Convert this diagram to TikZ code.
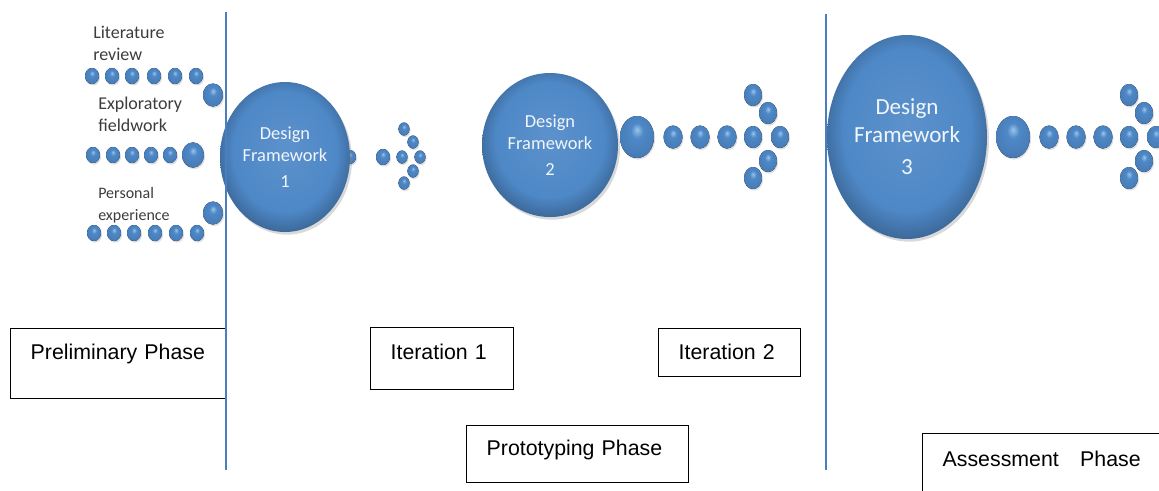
\documentclass[tikz,border=0pt]{standalone}
\usepackage{fontspec}
\setmainfont{Liberation Sans}
\newfontfamily\calibri{Carlito}
\usetikzlibrary{shapes.geometric,shadows}

\definecolor{beadmid}{RGB}{78,136,199}
\definecolor{beadhi}{RGB}{155,196,234}
\definecolor{beadlo}{RGB}{52,98,160}
\definecolor{divider}{RGB}{74,126,190}
\definecolor{labelgray}{RGB}{60,60,60}

\pgfdeclareradialshading{beadball}{\pgfpoint{0bp}{9bp}}{color(0bp)=(beadhi); color(9bp)=(beadmid); color(26bp)=(beadmid!92!black); color(34bp)=(beadlo); color(50bp)=(beadlo)}
\pgfdeclareradialshading{framefill}{\pgfpoint{0bp}{3bp}}{color(0bp)=(beadmid!92!white); color(20bp)=(beadmid); color(27bp)=(beadmid!75!black); color(50bp)=(beadmid!75!black)}

\tikzset{
	bead/.style={shading=beadball, drop shadow={shadow xshift=0.8pt, shadow yshift=-1.2pt, opacity=0.25}},
	framenode/.style={ellipse, shading=framefill, text=white!92!beadmid, align=center, inner sep=0pt, drop shadow={shadow xshift=1.5pt, shadow yshift=-2pt, opacity=0.3}},
	phasebox/.style={draw=black, line width=1pt, anchor=north west, align=left, inner xsep=15pt, inner ysep=6pt, font=\fontsize{16}{19}\selectfont},
	sidelabel/.style={anchor=base west, align=left, inner sep=0pt, text=labelgray},
	divider line/.style={draw=divider, line width=1.4pt}
}

\begin{document}
\begin{tikzpicture}[x=0.75pt, y=-0.75pt]
				\useasboundingbox (0, 0) rectangle (1159, 490);
				% Beads: source rows, then the three arrows
				\foreach \x/\y/\r in {92/76/7, 112/76/7, 132/76/7, 154/76/7, 175/76/7, 196/76/7, 213/95/10,
					93/155/7, 113/155/7, 132/155/7, 151/155/7, 170/155/7, 193/155/11,
					94/233/7, 114/233/7, 134/233/7, 155/233/7, 176/233/7, 197/233/7, 213/213/10,
					350/157/6, 383/157/7}
					\fill[bead] (\x, \y) ellipse [x radius=\r, y radius=1.15*\r];
				\foreach \x/\y in {404/129, 413/142, 402/157, 420/157, 413/171, 404/183}
					\fill[bead] (\x, \y) ellipse [x radius=5.5, y radius=6.5];
				\foreach \x in {0, 376}{
					\fill[bead] (637+\x, 137) ellipse [x radius=17, y radius=21];
					\foreach \dx in {36, 63, 90}
						\fill[bead] (637+\x+\dx, 137) ellipse [x radius=9.5, y radius=11.5];
					\foreach \dx/\y in {116/95, 131/113, 116/137, 143/137, 131/161, 116/178}
						\fill[bead] (637+\x+\dx, \y) ellipse [x radius=9, y radius=11];
				}
				% Frameworks
				\node[framenode, minimum width=97.5pt, minimum height=112.5pt, font=\calibri\fontsize{13.8}{16.5}\selectfont] (dfone) at (285, 157){Design\\Framework\\[3pt]1};
				\node[framenode, minimum width=102pt, minimum height=108pt, font=\calibri\fontsize{13.8}{16.5}\selectfont] (dftwo) at (550, 145){Design\\Framework\\[3pt]2};
				\node[framenode, minimum width=120pt, minimum height=153pt, font=\calibri\fontsize{17.3}{21}\selectfont] (dfthree) at (907, 137){Design\\Framework\\[3pt]3};
				% Sources (anchored on the last line)
				\node[sidelabel, font=\calibri\fontsize{13.5}{16.5}\selectfont] (litrev) at (93, 60){Literature\\review};
				\node[sidelabel, font=\calibri\fontsize{13.5}{16.5}\selectfont] (fieldwork) at (98, 131){Exploratory\\fieldwork};
				\node[sidelabel, font=\calibri\fontsize{12}{16.5}\selectfont] (personal) at (98, 220){Personal\\experience};
				% Phases
				\node[phasebox, text width=131.25pt, text height=17pt, text depth=23.5pt] (prelim) at (10, 328){Preliminary Phase};
				\node[phasebox, text width=77.25pt, text height=18pt, text depth=16.5pt] (iterone) at (370, 327){Iteration 1};
				\node[phasebox, text width=76.5pt, text height=17pt, text depth=7pt] (itertwo) at (658, 328){Iteration 2};
				\node[phasebox, text width=136.5pt, text height=16.5pt, text depth=14.25pt] (proto) at (466, 425){Prototyping Phase};
				\node[phasebox, text width=160pt, text height=18.75pt, text depth=50pt] (assess) at (922, 433){Assessment\hspace{16pt}Phase};
				% Dividers
				\draw[divider line] (226, 12) -- (226, 470);
				\draw[divider line] (826, 14) -- (826, 470);
			\end{tikzpicture}
\end{document}
